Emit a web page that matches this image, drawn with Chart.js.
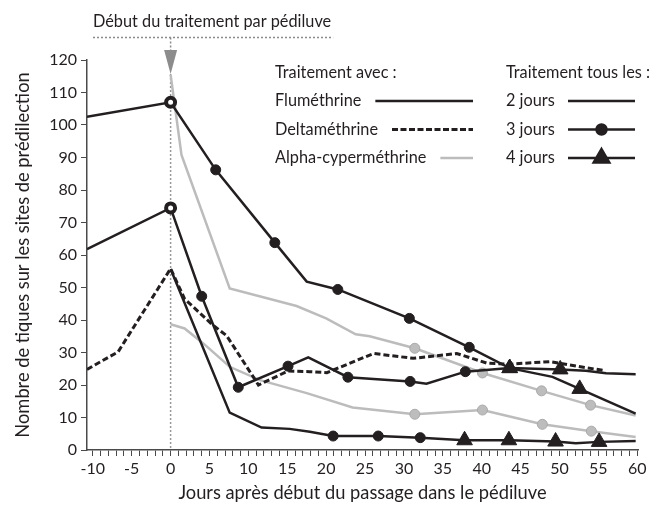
<!DOCTYPE html>
<html lang="fr">
<head>
<meta charset="utf-8">
<title>Tiques et pédiluve</title>
<script src="https://cdn.jsdelivr.net/npm/chart.js@4.4.1/dist/chart.umd.min.js"></script>
<style>
  html, body { margin: 0; padding: 0; background: #fff; }
  #wrap { width: 651px; height: 512px; }
</style>
</head>
<body>
<div id="wrap"><canvas id="chart"></canvas></div>
<script>
// jours après le début du passage dans le pédiluve -> nombre de tiques
// marques : 0 = aucune, 1 = début (cercle ouvert), 3 = traitement tous les 3 jours, 4 = tous les 4 jours
const flumA_jours = [-10.75, 0, 5.8, 13.4, 17.5, 21.5, 30.7, 38.4, 43.6, 49.1, 52.6, 59.8];
const flumA_tiques = [102.5, 107, 86.2, 63.8, 51.8, 49.4, 40.5, 31.6, 25.2, 22.5, 18.8, 11.2];
const flumA_marques = [0, 1, 3, 3, 0, 3, 3, 3, 4, 0, 4, 0];

const flumB_jours = [-10.75, 0, 4.0, 8.7, 15.1, 17.7, 22.8, 30.8, 32.9, 37.9, 43.6, 50.1, 53.4, 56.0, 59.8];
const flumB_tiques = [61.8, 74.5, 47.3, 19.3, 25.8, 28.5, 22.4, 21.1, 20.4, 24.1, 25.2, 24.8, 24.4, 23.6, 23.3];
const flumB_marques = [0, 1, 3, 3, 3, 0, 3, 3, 0, 3, 4, 4, 0, 0, 0];

const flumC_jours = [0, 7.6, 11.7, 15.3, 17.9, 20.9, 26.7, 32.1, 37.8, 43.5, 49.5, 52.1, 55.1, 59.8];
const flumC_tiques = [55.7, 11.5, 6.9, 6.5, 5.6, 4.3, 4.3, 3.8, 3.0, 3.0, 2.6, 2.1, 2.5, 2.8];
const flumC_marques = [0, 0, 0, 0, 0, 3, 3, 3, 4, 4, 4, 0, 4, 0];

const delta_jours = [-10.75, -6.75, 0, 1.8, 5.4, 7.2, 11.3, 15.1, 17.9, 20.1, 26.1, 31.2, 36.8, 40.7, 43.5, 48.8, 52.7, 55.9];
const delta_tiques = [24.8, 30.2, 55.8, 46.5, 38.5, 35.2, 20.0, 24.3, 24.1, 23.8, 29.7, 28.2, 29.7, 26.7, 26.4, 27.2, 25.6, 24.4];

const alphaA_jours = [0, 1.4, 7.6, 16.2, 20.0, 23.8, 25.6, 31.4, 40.1, 47.7, 54.0, 59.8];
const alphaA_tiques = [115.5, 90.8, 49.7, 44.3, 40.5, 35.6, 35.0, 31.3, 23.7, 18.2, 13.8, 10.6];
const alphaA_marques = [0, 0, 0, 0, 0, 0, 0, 3, 3, 3, 3, 0];

const alphaB_jours = [0, 1.8, 4.2, 7.6, 11.5, 17.5, 23.4, 31.4, 40.1, 47.8, 54.1, 59.8];
const alphaB_tiques = [38.7, 37.4, 32.8, 25.6, 21.5, 17.5, 13.1, 11.0, 12.3, 7.9, 5.8, 4.0];
const alphaB_marques = [0, 0, 0, 0, 0, 0, 0, 3, 3, 3, 3, 0];

const produits = ['Fluméthrine', 'Deltaméthrine', 'Alpha-cyperméthrine'];
const frequences = ['2 jours', '3 jours', '4 jours'];
const titresLegende = ['Traitement avec :', 'Traitement tous les :'];
const annotation = 'Début du traitement par pédiluve';

const INK = '#231f20';
const GREY = '#bcbcbc';
const FONT = 'Lato';

function points(xs, ys) {
  return xs.map((x, i) => ({ x: x, y: ys[i] }));
}

function styleMarques(marques, gris) {
  const rayon = { 0: 0, 1: 4.5, 3: 5, 4: 9 };
  return {
    pointStyle: c => marques[c.dataIndex] === 4 ? 'triangle' : 'circle',
    pointRadius: c => rayon[marques[c.dataIndex]],
    pointHoverRadius: c => rayon[marques[c.dataIndex]],
    pointBackgroundColor: c => marques[c.dataIndex] === 1 ? '#fff' : (gris ? '#bdbdbd' : INK),
    pointBorderColor: gris ? '#a9a9a9' : INK,
    pointBorderWidth: c => marques[c.dataIndex] === 1 ? 4 : 1
  };
}

const noir = { borderColor: INK, borderWidth: 2.5, tension: 0, fill: false };
const gris = { borderColor: GREY, borderWidth: 2.5, tension: 0, fill: false };

const datasets = [
  Object.assign({ label: 'Fluméthrine A', data: points(flumA_jours, flumA_tiques) }, noir, styleMarques(flumA_marques, false)),
  Object.assign({ label: 'Fluméthrine B', data: points(flumB_jours, flumB_tiques) }, noir, styleMarques(flumB_marques, false)),
  Object.assign({ label: 'Fluméthrine C', data: points(flumC_jours, flumC_tiques) }, noir, styleMarques(flumC_marques, false)),
  Object.assign({ label: 'Deltaméthrine', data: points(delta_jours, delta_tiques), borderDash: [6, 3], pointRadius: 0 }, noir, { borderWidth: 3 }),
  Object.assign({ label: 'Alpha-cyperméthrine A', data: points(alphaA_jours, alphaA_tiques) }, gris, styleMarques(alphaA_marques, true)),
  Object.assign({ label: 'Alpha-cyperméthrine B', data: points(alphaB_jours, alphaB_tiques) }, gris, styleMarques(alphaB_marques, true))
];

// ligne pointillée verticale au jour 0 (sous les courbes)
const debutTraitement = {
  id: 'debutTraitement',
  beforeDatasetsDraw(chart) {
    const ctx = chart.ctx;
    const x0 = chart.scales.x.getPixelForValue(0);
    ctx.save();
    ctx.strokeStyle = '#999';
    ctx.lineWidth = 1.5;
    ctx.setLineDash([2, 2]);
    ctx.beginPath();
    ctx.moveTo(x0, 74);
    ctx.lineTo(x0, chart.chartArea.bottom);
    ctx.stroke();
    ctx.restore();
  },
  afterDraw(chart) {
    const ctx = chart.ctx;
    const x0 = chart.scales.x.getPixelForValue(0);
    ctx.save();
    ctx.font = '16.3px ' + FONT;
    ctx.fillStyle = INK;
    ctx.textBaseline = 'middle';
    ctx.fillText(annotation, 93, 22);
    const w = ctx.measureText(annotation).width;
    ctx.strokeStyle = '#8a8a8a';
    ctx.lineWidth = 1.5;
    ctx.setLineDash([2, 2]);
    ctx.beginPath();
    ctx.moveTo(93, 37.5);
    ctx.lineTo(93 + w + 2, 37.5);
    ctx.moveTo(x0, 37.5);
    ctx.lineTo(x0, 50);
    ctx.stroke();
    ctx.setLineDash([]);
    ctx.fillStyle = '#8c8c8c';
    ctx.beginPath();
    ctx.moveTo(x0 - 6.5, 50);
    ctx.lineTo(x0 + 6.5, 50);
    ctx.lineTo(x0, 74);
    ctx.closePath();
    ctx.fill();
    ctx.restore();
  }
};

// légende en deux colonnes
const legende = {
  id: 'legende',
  afterDraw(chart) {
    const ctx = chart.ctx;
    const rows = [73, 101, 129.5, 158];
    ctx.save();
    ctx.font = '16.3px ' + FONT;
    ctx.fillStyle = INK;
    ctx.textBaseline = 'middle';
    ctx.fillText(titresLegende[0], 275, rows[0]);
    ctx.fillText(titresLegende[1], 506, rows[0]);
    const styles = [
      { color: INK, width: 2.5, dash: [] },
      { color: INK, width: 3, dash: [6, 2.5] },
      { color: GREY, width: 2.5, dash: [] }
    ];
    produits.forEach((p, i) => {
      const y = rows[i + 1];
      ctx.fillStyle = INK;
      ctx.fillText(p, 275, y);
      const x1 = 275 + ctx.measureText(p).width + 14;
      ctx.strokeStyle = styles[i].color;
      ctx.lineWidth = styles[i].width;
      ctx.setLineDash(styles[i].dash);
      ctx.beginPath();
      ctx.moveTo(x1, y);
      ctx.lineTo(473, y);
      ctx.stroke();
    });
    ctx.setLineDash([]);
    frequences.forEach((f, i) => {
      const y = rows[i + 1];
      ctx.fillStyle = INK;
      ctx.fillText(f, 506, y);
      ctx.strokeStyle = INK;
      ctx.lineWidth = 2.5;
      ctx.beginPath();
      ctx.moveTo(568, y);
      ctx.lineTo(635, y);
      ctx.stroke();
      if (i > 0) {
        Chart.helpers.drawPoint(ctx, {
          pointStyle: i === 1 ? 'circle' : 'triangle',
          radius: i === 1 ? 5 : 9,
          rotation: 0,
          borderWidth: 1
        }, 601.5, y);
        ctx.fillStyle = INK;
        ctx.fill();
      }
    });
    ctx.restore();
  }
};

new Chart(document.getElementById('chart'), {
  type: 'line',
  data: { datasets: datasets },
  options: {
    responsive: true,
    maintainAspectRatio: false,
    animation: false,
    events: [],
    layout: { padding: { top: 60, right: 13, left: 0, bottom: 0 } },
    plugins: { legend: { display: false }, tooltip: { enabled: false } },
    scales: {
      x: {
        type: 'linear',
        min: -10.75,
        max: 60.1,
        afterFit: s => { s.height = 62; },
        border: { color: '#4a4a4a', width: 1.5 },
        grid: { drawOnChartArea: false, drawTicks: true, tickLength: 6, color: '#4a4a4a', lineWidth: 1 },
        ticks: {
          stepSize: 1,
          includeBounds: false,
          autoSkip: false,
          maxRotation: 0,
          padding: 3,
          color: INK,
          font: { family: FONT, size: 16 },
          callback: v => (v % 5 === 0 ? String(v) : '')
        },
        title: {
          display: true,
          text: 'Jours après début du passage dans le pédiluve',
          color: INK,
          font: { family: FONT, size: 18.3 },
          padding: { top: 0, bottom: 8 }
        }
      },
      y: {
        min: 0,
        max: 120,
        afterFit: s => { s.width = 87; },
        border: { color: '#4a4a4a', width: 1.5 },
        grid: { drawOnChartArea: false, drawTicks: true, tickLength: 6, color: '#4a4a4a', lineWidth: 1 },
        ticks: {
          stepSize: 10,
          padding: 4,
          color: INK,
          font: { family: FONT, size: 16 }
        },
        title: {
          display: true,
          text: 'Nombre de tiques sur les sites de prédilection',
          color: INK,
          font: { family: FONT, size: 18.3 },
          padding: { top: 12, bottom: 0 }
        }
      }
    }
  },
  plugins: [debutTraitement, legende]
});
</script>
</body>
</html>
